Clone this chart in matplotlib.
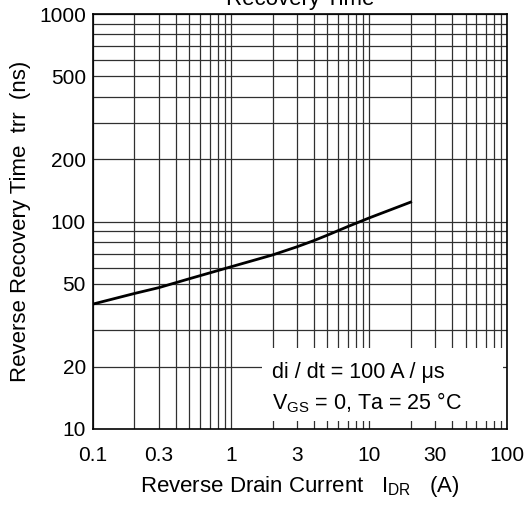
import matplotlib
matplotlib.use("Agg")
import matplotlib.pyplot as plt
from matplotlib.ticker import FixedLocator, NullFormatter
from matplotlib.patches import Rectangle

plt.rcParams['font.family'] = ['Liberation Sans', 'DejaVu Sans']

# datos
drain_current = [0.1, 0.2, 0.3, 0.5, 1, 2, 3, 4, 5, 7, 10, 20]
recovery_time = [40, 45, 48, 53, 60.5, 69, 75.5, 81, 86, 94.5, 104, 124]

x_ticks = [0.1, 0.3, 1, 3, 10, 30, 100]
x_tick_labels = ['0.1', '0.3', '1', '3', '10', '30', '100']
y_ticks = [10, 20, 50, 100, 200, 500, 1000]
y_tick_labels = ['10', '20', '50', '100', '200', '500', '1000']

# lineas de la grilla
x_grid = [0.1, 0.2, 0.3, 0.4, 0.5, 0.6, 0.7, 0.8, 0.9,
          1, 2, 3, 4, 5, 6, 7, 8, 9,
          10, 20, 30, 40, 50, 60, 70, 80, 90, 100]
y_grid = [20, 30, 40, 50, 60, 70, 80, 90,
          100, 200, 300, 400, 500, 600, 700, 800, 900, 1000]

fig = plt.figure(figsize=(5.31, 5.05), dpi=100)
ax = fig.add_axes([0.175, 0.1505, 0.780, 0.8217])

ax.set_xscale('log')
ax.set_yscale('log')
ax.set_xlim(0.1, 100)
ax.set_ylim(10, 1000)

ax.xaxis.remove_overlapping_locs = False
ax.yaxis.remove_overlapping_locs = False
ax.xaxis.set_major_locator(FixedLocator(x_ticks))
ax.set_xticklabels(x_tick_labels)
ax.yaxis.set_major_locator(FixedLocator(y_ticks))
ax.set_yticklabels(y_tick_labels)
ax.xaxis.set_minor_locator(FixedLocator(x_grid))
ax.yaxis.set_minor_locator(FixedLocator(y_grid))
ax.xaxis.set_minor_formatter(NullFormatter())
ax.yaxis.set_minor_formatter(NullFormatter())
ax.tick_params(which='both', length=0, labelsize=15, colors='black')
ax.tick_params(axis='x', pad=12)
ax.tick_params(axis='y', pad=5)

ax.grid(which='minor', color='#303030', linewidth=0.9)
ax.grid(which='major', visible=False)

for s in ax.spines.values():
    s.set_linewidth(1.2)
    s.set_color('black')

ax.plot(drain_current, recovery_time, color='black', linewidth=2.0, zorder=3)

# caja blanca para el texto
ax.add_patch(Rectangle((0.408, 0.019), 0.582, 0.176, transform=ax.transAxes,
                       facecolor='white', edgecolor='none', zorder=2.5))
ax.text(0.433, 0.136, 'di / dt = 100 A / μs', transform=ax.transAxes,
        fontsize=15.5, va='center', zorder=4)
ax.text(0.433, 0.064, r'V$_{\mathregular{GS}}$ = 0, Ta = 25 °C', transform=ax.transAxes,
        fontsize=15.5, va='center', zorder=4)

fig.text(0.565, 1 - 5 / 505, 'Recovery Time', fontsize=16, ha='center', va='baseline')

ax.set_xlabel(r'Reverse Drain Current   I$_{\mathregular{DR}}$   (A)', fontsize=16, labelpad=7)
ax.set_ylabel('Reverse Recovery Time  trr  (ns)', fontsize=16, labelpad=6)

fig.savefig('out.png', dpi=100)
